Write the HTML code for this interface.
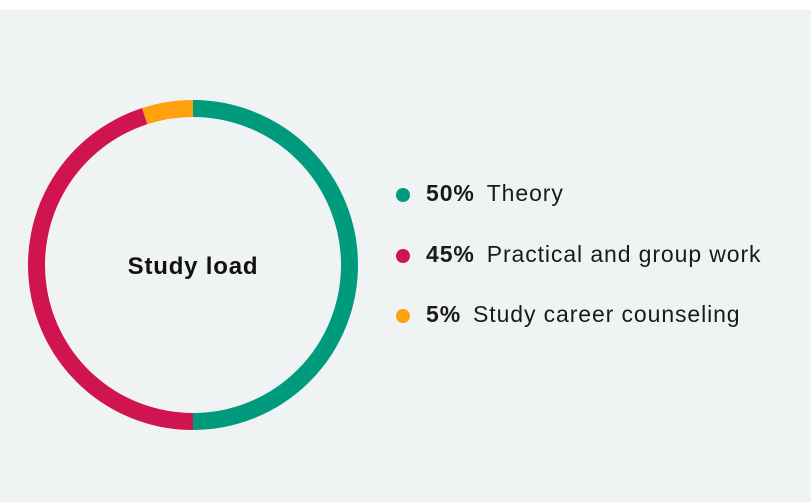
<!DOCTYPE html>
<html><head><meta charset="utf-8"><style>
body{margin:0;width:811px;height:502px;background:#fff;font-family:"Liberation Sans",sans-serif;overflow:hidden}
#bg{position:absolute;left:0;top:10px;width:811px;height:492px;background:#f0f3f4}
.leg{position:absolute;left:396px;font-size:23px;letter-spacing:0.9px;color:#1a1a1a;white-space:nowrap;line-height:24px}
.dot{display:inline-block;width:14px;height:14px;border-radius:50%;margin-right:16px;vertical-align:-1px}
b{margin-right:12px}
</style></head><body>
<div id="bg"></div>
<svg id="chart" width="811" height="502" style="position:absolute;left:0;top:0">
<text x="193" y="274" text-anchor="middle" font-size="24" letter-spacing="0.8" font-weight="bold" fill="#111" font-family="Liberation Sans, sans-serif">Study load</text>
</svg>
<div class="leg" style="top:181px"><span class="dot" style="background:#009b7d"></span><b>50%</b>Theory</div>
<div class="leg" style="top:242px"><span class="dot" style="background:#d0144f"></span><b>45%</b>Practical and group work</div>
<div class="leg" style="top:302px"><span class="dot" style="background:#ffa00f"></span><b>5%</b>Study career counseling</div>
<script>
const categories=["Theory","Practical and group work","Study career counseling"];
const values=[50,45,5];
const colors=["#009b7d","#d0144f","#ffa00f"];
const svg=document.getElementById('chart');
const cx=193,cy=265,r=156.5,w=17;
const total=values.reduce((a,b)=>a+b,0);
let start=0;
function pt(f){const a=f*2*Math.PI-Math.PI/2;return [cx+r*Math.cos(a),cy+r*Math.sin(a)];}
values.forEach((v,i)=>{
  const f0=start/total,f1=(start+v)/total;start+=v;
  const p0=pt(f0),p1=pt(f1);
  const large=(f1-f0)>0.5?1:0;
  const p=document.createElementNS('http://www.w3.org/2000/svg','path');
  p.setAttribute('d',`M${p0[0]} ${p0[1]} A${r} ${r} 0 ${large} 1 ${p1[0]} ${p1[1]}`);
  p.setAttribute('fill','none');p.setAttribute('stroke',colors[i]);p.setAttribute('stroke-width',w);
  
  
  svg.insertBefore(p,svg.firstChild);
});
</script>
</body></html>
